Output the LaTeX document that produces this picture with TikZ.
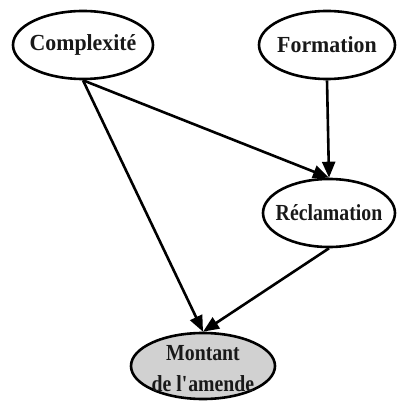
\documentclass[tikz,border=0pt]{standalone}
\usepackage{fontspec}
\setmainfont[FakeStretch=0.95]{Liberation Serif}
\newfontfamily\narrowserif[FakeStretch=0.86]{Liberation Serif}
\usetikzlibrary{shapes.geometric,arrows.meta}
\begin{document}
\begin{tikzpicture}[x=1pt,y=-1pt,
  var/.style={ellipse,draw=black,line width=2.6pt,inner sep=0pt},
  txt/.style={font=\fontsize{23}{31}\selectfont\bfseries,text=black!90,align=center,inner sep=0pt},
  edge/.style={line width=2.6pt,-{Triangle[length=16pt,width=13pt]}}]
\useasboundingbox (0,0) rectangle (397,403);
\node[var,minimum width=140pt,minimum height=68pt,label={[txt]center:Complexité}] (c) at (83,45) {};
\node[var,minimum width=136pt,minimum height=68pt,label={[txt]center:Formation}] (f) at (327,45) {};
\node[var,minimum width=132pt,minimum height=68pt,label={[txt,font=\fontsize{23}{31}\selectfont\narrowserif\bfseries]center:Réclamation}] (r) at (329,213) {};
\node[var,fill=black!18,minimum width=144pt,minimum height=66pt,label={[txt,font=\fontsize{23}{31}\selectfont\narrowserif\bfseries,yshift=-3pt]center:Montant\\de l\textquotesingle amende}] (m) at (203,366) {};
\draw[edge] (c.south) -- (r.north);
\draw[edge] (c.south) -- (m.north);
\draw[edge] (f.south) -- (r.north);
\draw[edge] (r.south) -- (m.north);
\end{tikzpicture}
\end{document}
